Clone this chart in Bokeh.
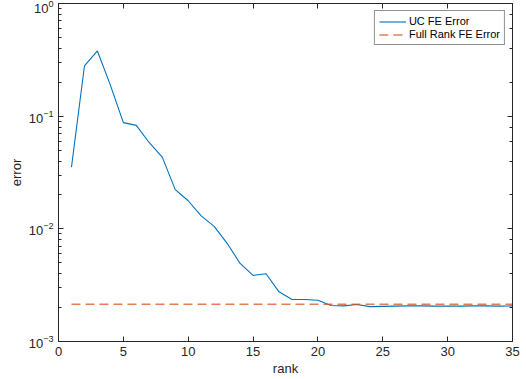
from bokeh.plotting import figure
from bokeh.models import LogAxis, LinearAxis, Legend, LegendItem, Range1d, FixedTicker, CustomJSTickFormatter
from bokeh.embed import file_html
from bokeh.resources import INLINE

rank = list(range(1, 36))
uc_fe_error = [0.0353, 0.279, 0.379, 0.1886, 0.0876, 0.0829, 0.0581, 0.0433, 0.0223, 0.01775,
               0.01304, 0.0105, 0.00744, 0.00493, 0.00386, 0.00399, 0.00276, 0.00236, 0.00236, 0.00232,
               0.00209, 0.00207, 0.00213, 0.00204, 0.00205, 0.00206, 0.00207, 0.00207, 0.00206, 0.00206,
               0.00206, 0.00207, 0.00207, 0.00206, 0.00207]
full_rank_fe_error = [0.00214] * 35
x_ticks = [0, 5, 10, 15, 20, 25, 30, 35]

FONT = "Liberation Sans"
AX = "#262626"

p = figure(width=525, height=378, y_axis_type="log",
           x_range=Range1d(0, 35), y_range=Range1d(1e-3, 1),
           output_backend="svg", toolbar_location=None,
           min_border_left=58, min_border_right=13, min_border_top=3, min_border_bottom=36)
p.xgrid.visible = False
p.ygrid.visible = False
p.outline_line_color = AX
p.outline_line_width = 1

l1 = p.line(rank, uc_fe_error, line_color="#0072BD", line_width=1.1)
l2 = p.line(rank, full_rank_fe_error, line_color="#D95319", line_alpha=0.75,
            line_width=1.3, line_dash="9 5")

def style(ax):
    ax.axis_line_color = AX
    ax.major_tick_line_color = AX
    ax.minor_tick_line_color = AX
    ax.major_tick_in = 5
    ax.major_tick_out = 0
    ax.minor_tick_in = 3
    ax.minor_tick_out = 0
    ax.major_label_text_font = FONT
    ax.major_label_text_color = AX
    ax.major_label_text_font_size = "13px"
    ax.axis_label_text_font = FONT
    ax.axis_label_text_font_size = "13px"
    ax.axis_label_text_font_style = "normal"
    ax.axis_label_text_color = AX

xa = p.xaxis[0]
style(xa)
xa.ticker = FixedTicker(ticks=x_ticks)
xa.minor_tick_in = 0
xa.axis_label = "rank"
xa.major_label_standoff = 5
xa.axis_label_standoff = 2

ya = p.yaxis[0]
style(ya)
ya.axis_label = "error"
ya.major_label_standoff = 5
ya.axis_label_standoff = 2

blank = CustomJSTickFormatter(code="return ''")

top = LinearAxis(ticker=FixedTicker(ticks=x_ticks), formatter=blank)
style(top)
top.minor_tick_in = 0
top.major_label_standoff = 0
top.major_label_text_font_size = "1px"
p.add_layout(top, "above")

right = LogAxis(formatter=blank)
style(right)
right.major_label_standoff = 0
right.major_label_text_font_size = "1px"
p.add_layout(right, "right")

legend = Legend(items=[LegendItem(label="UC FE Error", renderers=[l1]),
                       LegendItem(label="Full Rank FE Error", renderers=[l2])],
                location="top_right")
legend.label_text_font = FONT
legend.label_text_font_size = "11px"
legend.label_text_color = "#000000"
legend.border_line_color = AX
legend.border_line_width = 1
legend.glyph_width = 27
legend.glyph_height = 11
legend.label_height = 11
legend.label_standoff = 3
legend.spacing = 1
legend.padding = 4
legend.margin = 7
legend.background_fill_color = "white"
p.add_layout(legend)

open("out.html", "w").write(file_html(p, INLINE))
